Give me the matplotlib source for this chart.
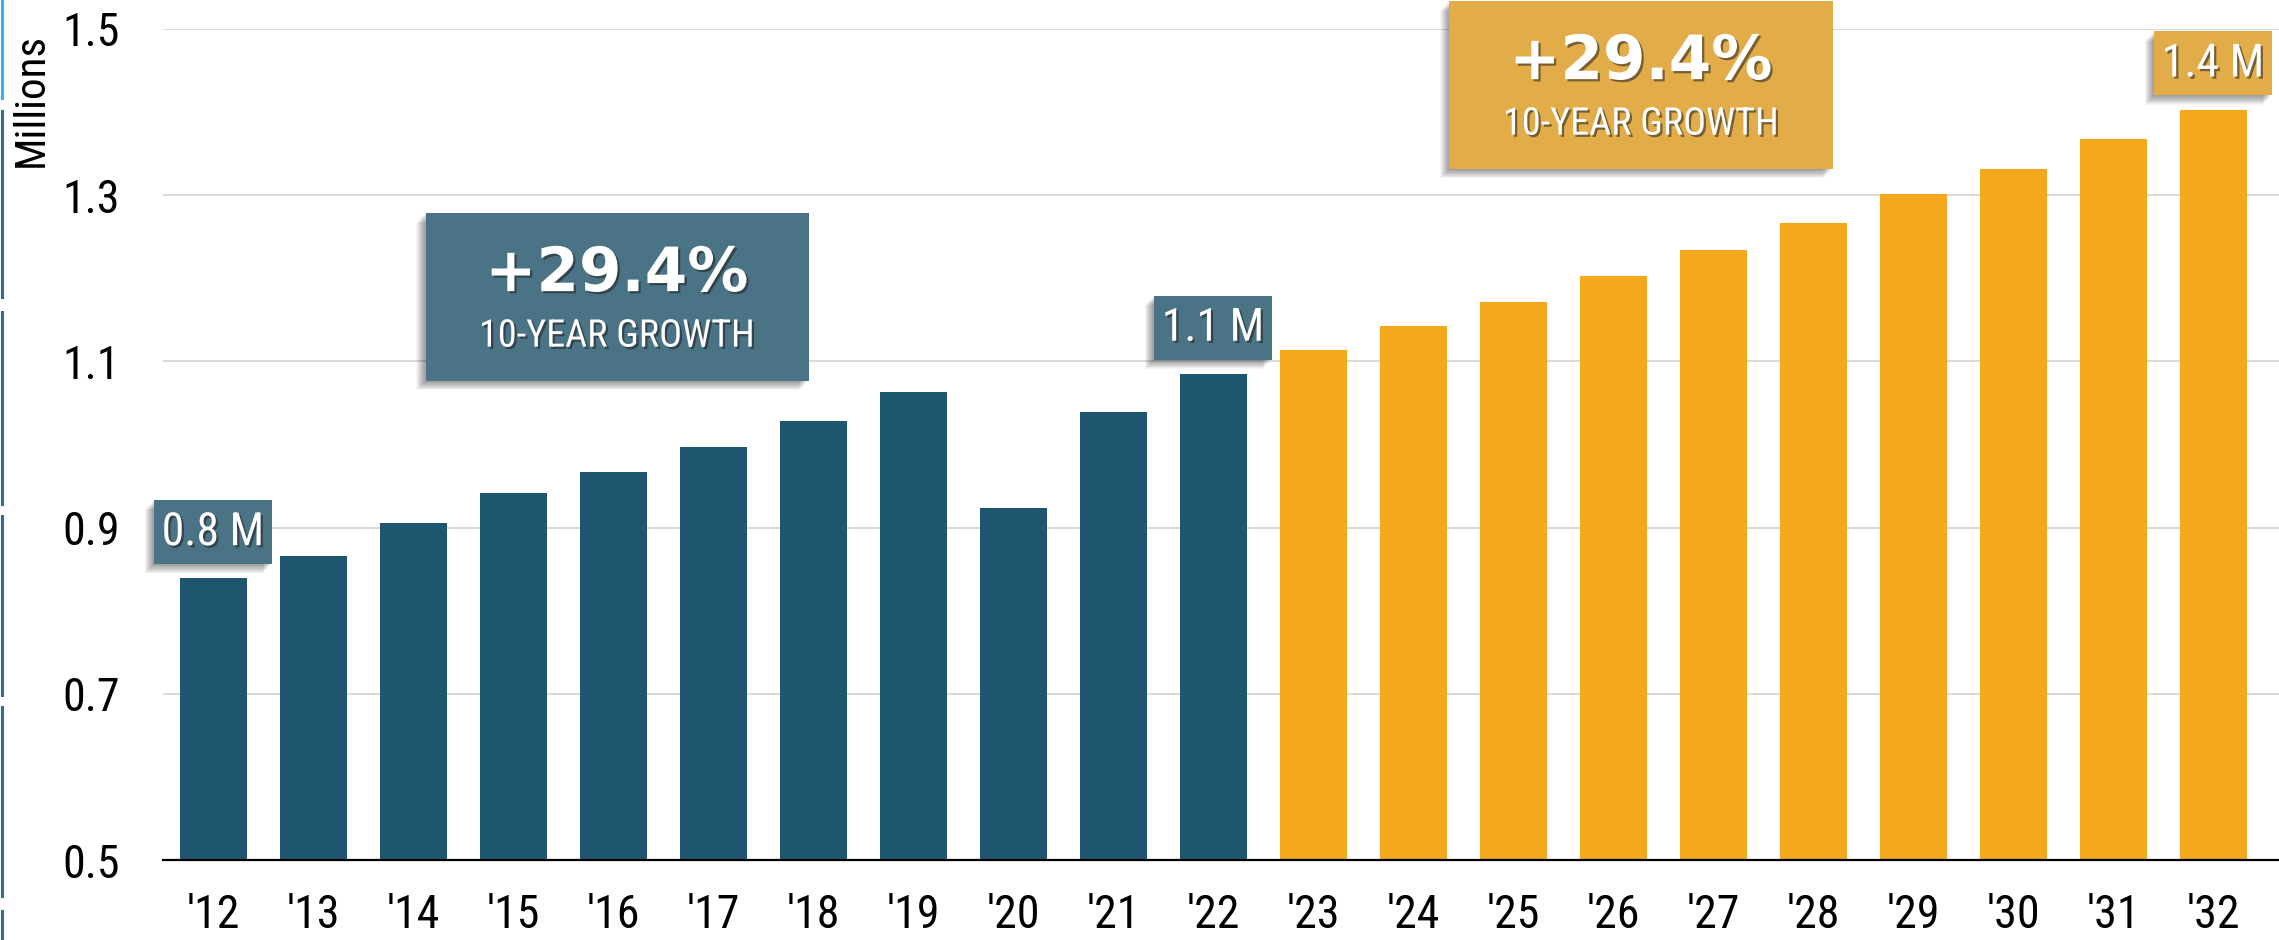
import matplotlib.pyplot as plt
import matplotlib.patheffects as pe
from matplotlib.patches import Rectangle
from matplotlib.lines import Line2D
from matplotlib import font_manager

years = ["'12", "'13", "'14", "'15", "'16", "'17", "'18", "'19", "'20", "'21", "'22",
         "'23", "'24", "'25", "'26", "'27", "'28", "'29", "'30", "'31", "'32"]
values = [0.839, 0.866, 0.906, 0.942, 0.967, 0.997, 1.028, 1.063, 0.923, 1.039, 1.085,
          1.114, 1.142, 1.171, 1.203, 1.234, 1.266, 1.301, 1.332, 1.368, 1.403]
n_actual = 11  # '12 - '22 are actuals, the rest projected
y_ticks = [0.5, 0.7, 0.9, 1.1, 1.3, 1.5]
growth_text = "+29.4%"
growth_sub = "10-YEAR GROWTH"
point_labels = {0: "0.8 M", 10: "1.1 M", 20: "1.4 M"}

blue = '#1e5670'
orange = '#f4a81d'
blue_box = '#4a7386'
orange_box = '#e2ac48'

# a narrow face if there is one, otherwise plain Liberation Sans a bit smaller
names = set(f.name for f in font_manager.fontManager.ttflist)
narrow, shrink = 'Liberation Sans', 0.86
for cand in ['Liberation Sans Narrow', 'Arial Narrow', 'Roboto Condensed']:
    if cand in names:
        narrow, shrink = cand, 1.0
        break

W, H = 2279, 940
fig = plt.figure(figsize=(W / 100, H / 100), dpi=100)
ax = fig.add_axes([163 / W, 1 - 860 / H, (W - 163) / W, 831 / H])

x = list(range(len(values)))
colors = [blue if i < n_actual else orange for i in x]
ax.bar(x, values, width=0.67, color=colors, zorder=2)

ax.set_xlim(-0.5, 20.66)
ax.set_ylim(0.5, 1.5)
ax.set_yticks(y_ticks)
ax.set_yticklabels([f"{t:.1f}" for t in y_ticks])
ax.set_xticks(x)
ax.set_xticklabels(years)
ax.tick_params(axis='both', length=0, labelsize=33 * (0.94 if shrink < 1 else 1.0),
               colors='black')
ax.tick_params(axis='y', pad=31)
ax.tick_params(axis='x', pad=24)
for lab in ax.get_xticklabels() + ax.get_yticklabels():
    lab.set_fontfamily(narrow)
ax.grid(axis='y', color='#d9d9d9', linewidth=1.4, zorder=0)
ax.set_axisbelow(True)
for s in ['top', 'right', 'left']:
    ax.spines[s].set_visible(False)
ax.spines['bottom'].set_color('black')
ax.spines['bottom'].set_linewidth(1.6)
ax.spines['bottom'].set_zorder(3)

fig.text(31 / W, 1 - 100 / H, "Millions", rotation=90, ha='center', va='center',
         fontsize=31 * shrink, fontfamily=narrow)

box_shadow = [pe.SimplePatchShadow(offset=(-k * 0.55, -k * 0.55), shadow_rgbFace='black', alpha=0.035)
              for k in range(1, 13)] + [pe.Normal()]
text_shadow = [pe.withSimplePatchShadow(offset=(1.6, -1.6), shadow_rgbFace='#202020', alpha=0.55)]


def growth_box(cx, bottom, color):
    ax.add_patch(Rectangle((cx - 1.915, bottom), 3.83, 0.202, facecolor=color, edgecolor='none',
                           zorder=4, clip_on=False, path_effects=box_shadow))
    ax.text(cx, bottom + 0.128, growth_text, ha='center', va='center', color='white',
            fontsize=44, fontweight='bold', fontfamily='DejaVu Sans', zorder=5,
            path_effects=text_shadow)
    ax.text(cx, bottom + 0.054, growth_sub, ha='center', va='center', color='white',
            fontsize=27.5 * shrink, fontfamily=narrow, zorder=5, path_effects=text_shadow)


growth_box(4.04, 1.0764, blue_box)
growth_box(14.28, 1.3315, orange_box)

for i, txt in point_labels.items():
    color = blue_box if i < n_actual else orange_box
    bottom = values[i] + 0.017
    ax.add_patch(Rectangle((i - 0.59, bottom), 1.18, 0.077, facecolor=color, edgecolor='none',
                           zorder=4, clip_on=False, path_effects=box_shadow))
    ax.text(i, bottom + 0.0385, txt, ha='center', va='center', color='white',
            fontsize=33 * shrink, fontfamily=narrow, zorder=5, path_effects=text_shadow)

# slide edge strip on the left
strip = [(0, 98, '#3ab4e8'), (111, 297, '#2d6d8f'), (312, 504, '#2d6d8f'),
         (516, 695, '#2d6d8f'), (707, 896, '#2d6d8f'), (911, 940, '#2d6d8f')]
for y0, y1, c in strip:
    fig.add_artist(Line2D([1.5 / W, 1.5 / W], [1 - y0 / H, 1 - y1 / H], color=c,
                          linewidth=2.2, transform=fig.transFigure))

fig.savefig('out.png', dpi=100)
